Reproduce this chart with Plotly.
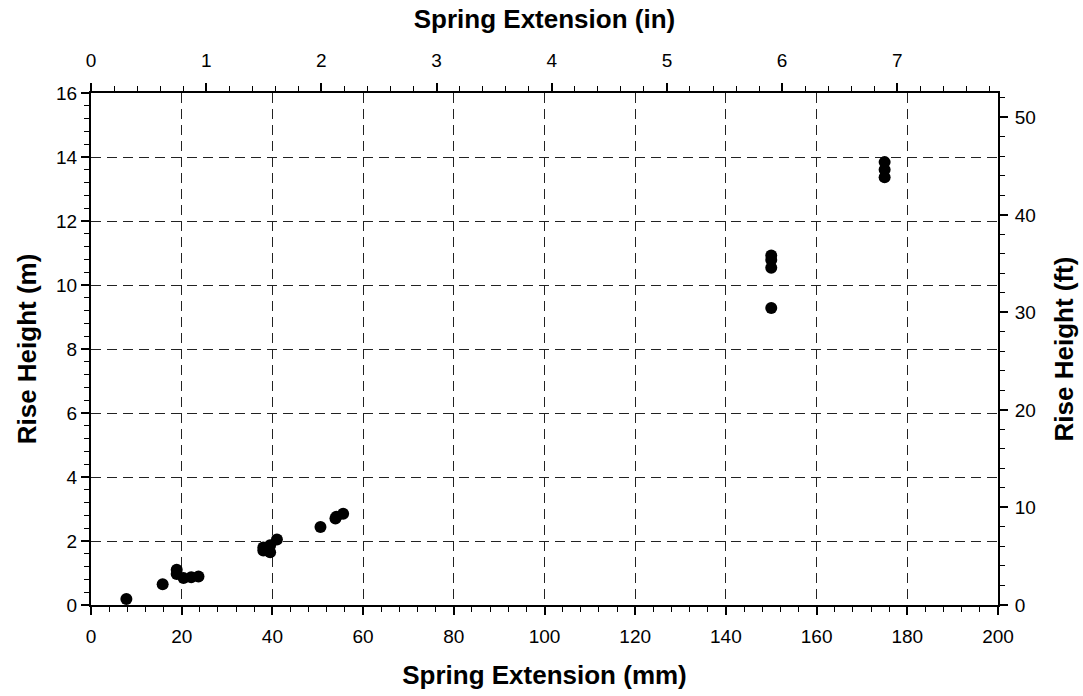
import plotly.graph_objects as go

# Spring extension (mm) and measured rise height (m)
spring_mm = [7.8, 15.8, 18.9, 18.9, 20.4, 22.1, 23.7,
             38.0, 38.0, 39.5, 39.5, 41.0,
             50.6, 53.9, 54.1, 55.6,
             150.0, 150.0, 150.0, 150.0,
             175.0, 175.0, 175.0]
rise_m = [0.19, 0.65, 1.10, 0.97, 0.84, 0.87, 0.89,
          1.70, 1.80, 1.65, 1.87, 2.05,
          2.44, 2.70, 2.76, 2.85,
          10.92, 10.78, 10.54, 9.28,
          13.84, 13.60, 13.37]

MM_PER_IN = 25.4
FT_PER_M = 1 / 0.3048
X_MAX_MM = 200
Y_MAX_M = 16

spring_in = [v / MM_PER_IN for v in spring_mm]
rise_ft = [v * FT_PER_M for v in rise_m]

FONT = "Liberation Sans, Arial, sans-serif"
tick_font = dict(family=FONT, size=19, color="black")
title_font = dict(family=FONT, size=26, color="black")
GRID_DASH = "10px,6px"

fig = go.Figure()
fig.add_trace(go.Scatter(
    x=spring_mm, y=rise_m, mode="markers",
    marker=dict(color="black", size=12, line=dict(width=0)),
    showlegend=False,
))
# Same points in imperial units on the secondary axes (transparent, keeps those axes active)
fig.add_trace(go.Scatter(
    x=spring_in, y=rise_ft, xaxis="x2", yaxis="y2", mode="markers",
    marker=dict(color="black", size=12, opacity=0),
    hoverinfo="skip", showlegend=False,
))

axis_common = dict(
    showline=True, linecolor="black", linewidth=2,
    ticks="outside", ticklen=8, tickwidth=1.5, tickcolor="black",
    tickfont=tick_font, zeroline=False, automargin=False,
)
minor_common = dict(ticks="outside", ticklen=5, tickwidth=1, tickcolor="black", showgrid=False)

fig.update_layout(
    width=1083, height=696,
    margin=dict(l=91, r=85, t=93, b=91, autoexpand=False),
    paper_bgcolor="white", plot_bgcolor="white",
    xaxis=dict(
        **axis_common,
        range=[0, X_MAX_MM], dtick=20, tick0=0, ticklabelstandoff=5,
        showgrid=True, gridcolor="#222", gridwidth=1, griddash=GRID_DASH,
        minor=dict(dtick=4, **minor_common),
        title=dict(text="<b>Spring Extension (mm)</b>", font=title_font, standoff=20),
    ),
    xaxis2=dict(
        **axis_common,
        range=[0, X_MAX_MM / MM_PER_IN], dtick=1, tick0=0, ticklabelstandoff=8,
        overlaying="x", side="top", anchor="y", showgrid=False,
        minor=dict(dtick=0.2, **minor_common),
        title=dict(text="<b>Spring Extension (in)</b>", font=title_font, standoff=14),
    ),
    yaxis=dict(
        **axis_common,
        range=[0, Y_MAX_M], dtick=2, tick0=0,
        showgrid=True, gridcolor="#222", gridwidth=1, griddash=GRID_DASH,
        minor=dict(dtick=0.4, **minor_common),
        title=dict(text="<b>Rise Height (m)</b>", font=title_font, standoff=12),
    ),
    yaxis2=dict(
        **axis_common,
        range=[0, Y_MAX_M * FT_PER_M], dtick=10, tick0=0, ticklabelstandoff=3,
        overlaying="y", side="right", anchor="x", showgrid=False,
        minor=dict(dtick=2, **minor_common),
        title=dict(text="<b>Rise Height (ft)</b>", font=title_font, standoff=20),
    ),
)

fig.write_html("out.html")
